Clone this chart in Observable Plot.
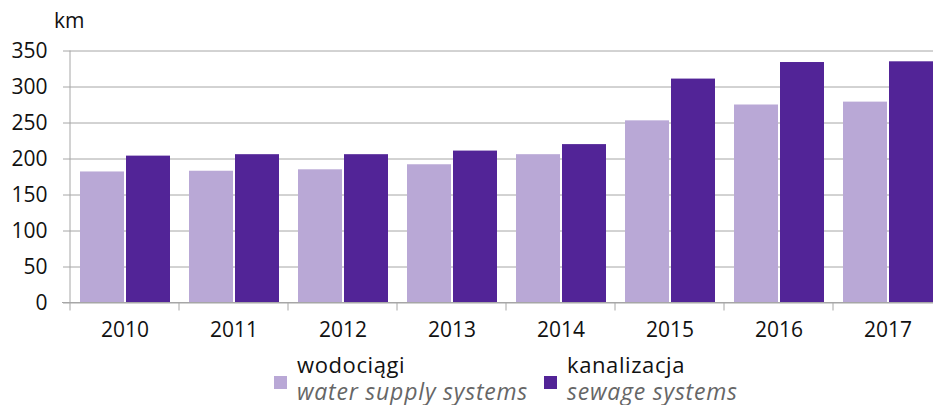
<!DOCTYPE html>
<html><head><meta charset="utf-8">
<script src="https://cdn.jsdelivr.net/npm/d3@7"></script>
<script src="https://cdn.jsdelivr.net/npm/@observablehq/plot@0.6"></script>
<style>
body{margin:0;background:#fff;font-family:"Open Sans",sans-serif;}
#wrap{position:relative;width:933px;height:405px;overflow:hidden;}
#chart{position:absolute;left:0;top:0;}
#legend{position:absolute;left:0;top:0;}
</style></head><body>
<div id="wrap">
<div id="chart"></div>
<svg id="legend" width="933" height="405"></svg>
</div>
<script>
const years = ["2010","2011","2012","2013","2014","2015","2016","2017"];
const seriesKeys = ["water","sewage"];
const seriesPL = ["wodociągi","kanalizacja"];
const seriesEN = ["water supply systems","sewage systems"];
const seriesColors = ["#b9a8d6","#522497"];
const water = [182,183,185,192,206,253,275,279];
const sewage = [204,206,206,211,220,311,334,335];
const yTicks = [0,50,100,150,200,250,300,350];
const unitLabel = "km";

const data = [];
years.forEach((y,i)=>{
  data.push({year:y, series:"water", value:water[i]});
  data.push({year:y, series:"sewage", value:sewage[i]});
});

const W = 933, H = 345;
const plot = Plot.plot({
  width: W, height: H,
  marginLeft: 69, marginRight: 0, marginTop: 50, marginBottom: 43,
  style:{fontFamily:'"Open Sans",sans-serif', fontSize:"21px", color:"#111", background:"transparent", overflow:"visible"},
  facet: {data, x: "year"},
  fx: {domain: years, range:[69, 942], padding: 0, label: null, tickSize: 0, tickPadding: 20},
  x: {domain: seriesKeys, paddingInner: 0.05, paddingOuter: 0.19, axis: null},
  y: {domain:[0,350], range:[302.5, 50.5], ticks: yTicks, tickSize: 7, tickPadding: 16, label: null, grid: true},
  color: {domain: seriesKeys, range: seriesColors},
  marks: [
    Plot.barY(data, {x:"series", y:"value", fill:"series"})
  ]
});
document.getElementById("chart").appendChild(plot);

const svg = d3.select(plot);
svg.selectAll('[aria-label="y-grid"] line, [aria-label="y-grid"] path').attr("stroke","#a6a6a6").attr("stroke-opacity",1);
svg.selectAll('[aria-label="y-axis"] line, [aria-label="y-axis"] path, [aria-label="y-axis tick"] path').attr("stroke","#a6a6a6");
svg.selectAll('[aria-label="y-axis"] text, [aria-label="y-axis tick label"] text').attr("fill","#111");

// axis lines and category boundary ticks from the library's scales
const fx = plot.scale("fx"), ys = plot.scale("y");
const y0 = ys.apply(0), yTop = ys.apply(350);
const g = svg.append("g").attr("stroke","#a6a6a6").attr("stroke-width",1);
g.append("line").attr("x1",62).attr("x2",W).attr("y1",y0).attr("y2",y0);
g.append("line").attr("x1",fx.apply(years[0])).attr("x2",fx.apply(years[0])).attr("y1",yTop).attr("y2",y0+8);
years.forEach(yv=>{
  const xx = fx.apply(yv) + fx.bandwidth;
  g.append("line").attr("x1",xx).attr("x2",xx).attr("y1",y0).attr("y2",y0+8);
});

// unit label and legend
const lg = d3.select("#legend").style("font-family",'"Open Sans",sans-serif');
lg.append("text").attr("x",54).attr("y",28).attr("font-size",21).attr("fill","#111").text(unitLabel);
const legX = [274, 544];
seriesKeys.forEach((k,i)=>{
  const x = legX[i];
  lg.append("rect").attr("x",x).attr("y",376).attr("width",13).attr("height",13).attr("fill",seriesColors[i]);
  lg.append("text").attr("x",x+23).attr("y",373).attr("font-size",22).attr("letter-spacing","0.6px").attr("fill","#111").text(seriesPL[i]);
  lg.append("text").attr("x",x+23).attr("y",400).attr("font-size",23).attr("letter-spacing","0.8px").attr("font-style","italic").attr("fill","#666").text(seriesEN[i]);
});
</script>
</body></html>
